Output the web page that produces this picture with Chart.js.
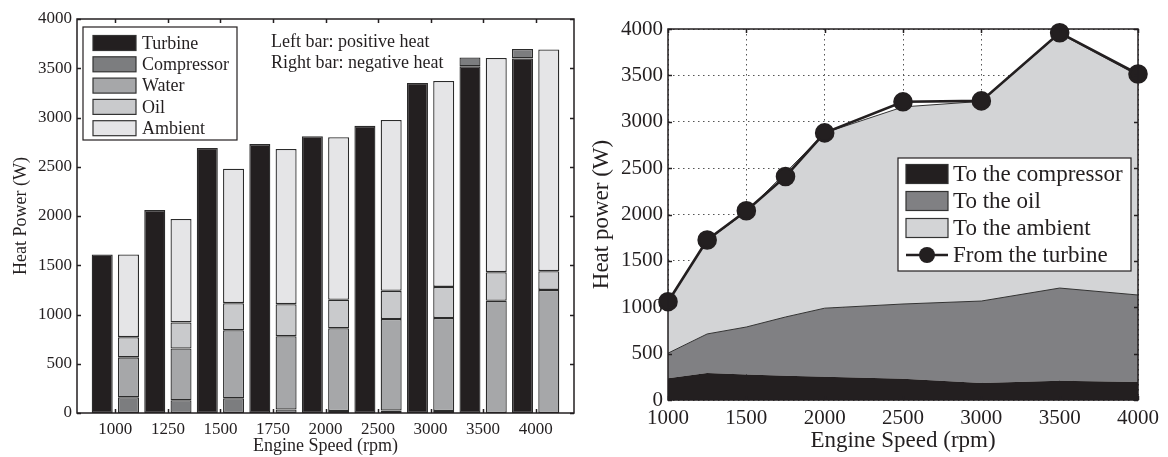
<!DOCTYPE html>
<html>
<head>
<meta charset="utf-8">
<script src="https://cdn.jsdelivr.net/npm/chart.js@4/dist/chart.umd.min.js"></script>
<style>
    html, body { margin: 0; padding: 0; background: #fff; }
    #page { position: relative; width: 1168px; height: 457px; }
    .panel { position: absolute; top: 0; width: 584px; height: 457px; }
</style>
</head>
<body>
<div id="page">
    <div class="panel" style="left:0"><canvas id="bar-chart"></canvas></div>
    <div class="panel" style="left:584px"><canvas id="area-chart"></canvas></div>
</div>
<script>
// engine speeds (rpm), shared by both panels
const speeds = [1000, 1250, 1500, 1750, 2000, 2500, 3000, 3500, 4000];
const yTicks = [0, 500, 1000, 1500, 2000, 2500, 3000, 3500, 4000];

// left panel: left bar = positive heat, right bar = negative heat (W)
const turbine = [1610, 2060, 2690, 2730, 2810, 2915, 3350, 3520, 3600];
const compressorPos = [0, 0, 0, 0, 0, 0, 0, 90, 95];
const compressorNeg = [160, 130, 150, 35, 20, 25, 20, 0, 0];
const water = [405, 525, 690, 745, 840, 930, 945, 1140, 1250];
const oil = [205, 265, 275, 325, 290, 285, 315, 290, 190];
const ambient = [840, 1050, 1365, 1575, 1650, 1735, 2090, 2175, 2250];

// right panel: stacked areas + turbine line (W)
const toCompressor = [235, 290, 275, 262, 250, 230, 182, 208, 195];
const toOil = [270, 422, 512, 633, 740, 805, 885, 999, 937];
const toAmbient = [555, 1008, 1243, 1555, 1890, 2125, 2153, 2743, 2368];
const fromTurbine = [1060, 1725, 2040, 2410, 2880, 3215, 3225, 3960, 3515];

const SERIF = "'Liberation Serif', 'DejaVu Serif', serif";
const INK = '#231f20';

const barColors = {
    turbine: '#231f20',
    compressor: '#7c7d7f',
    water: '#a6a7a9',
    oil: '#c9cacc',
    ambient: '#e5e5e7'
};

// box around the plot area + small inward tick marks on all four sides
const framePlugin = {
    id: 'frame',
    afterDatasetsDraw(chart, args, opts) {
        const { ctx, chartArea: a, scales } = chart;
        const len = opts.tickLength || 4;
        ctx.save();
        ctx.strokeStyle = opts.color || INK;
        ctx.lineWidth = opts.lineWidth || 1.2;
        ctx.beginPath();
        scales.x.ticks.forEach(t => {
            const px = Math.round(scales.x.getPixelForValue(t.value)) + 0.5;
            ctx.moveTo(px, a.bottom); ctx.lineTo(px, a.bottom - len);
            ctx.moveTo(px, a.top); ctx.lineTo(px, a.top + len);
        });
        scales.y.ticks.forEach(t => {
            const py = Math.round(scales.y.getPixelForValue(t.value)) + 0.5;
            ctx.moveTo(a.left, py); ctx.lineTo(a.left + len, py);
            ctx.moveTo(a.right, py); ctx.lineTo(a.right - len, py);
        });
        ctx.stroke();
        ctx.strokeRect(a.left, a.top, a.right - a.left, a.bottom - a.top);
        ctx.restore();
    }
};

// legend box drawn inside the plot area, plus optional free text
const boxLegendPlugin = {
    id: 'boxLegend',
    afterDraw(chart, args, opts) {
        const { ctx } = chart;
        const b = opts.box;
        ctx.save();
        ctx.fillStyle = '#fff';
        ctx.fillRect(b.x, b.y, b.w, b.h);
        ctx.strokeStyle = INK;
        ctx.lineWidth = 1.2;
        ctx.strokeRect(b.x, b.y, b.w, b.h);
        ctx.font = opts.font;
        ctx.textBaseline = 'middle';
        opts.items.forEach((item, i) => {
            const cy = b.y + opts.firstRow + i * opts.rowGap;
            const sx = b.x + opts.swatchX;
            if (item.marker) {
                ctx.strokeStyle = INK;
                ctx.lineWidth = 2.5;
                ctx.beginPath();
                ctx.moveTo(sx, cy); ctx.lineTo(sx + opts.swatchW, cy);
                ctx.stroke();
                ctx.fillStyle = INK;
                ctx.beginPath();
                ctx.arc(sx + opts.swatchW / 2, cy, 8, 0, Math.PI * 2);
                ctx.fill();
            } else {
                ctx.fillStyle = item.color;
                ctx.fillRect(sx, cy - opts.swatchH / 2, opts.swatchW, opts.swatchH);
                ctx.strokeStyle = '#333';
                ctx.lineWidth = 1.2;
                ctx.strokeRect(sx, cy - opts.swatchH / 2, opts.swatchW, opts.swatchH);
            }
            ctx.fillStyle = INK;
            ctx.fillText(item.label, b.x + opts.textX, cy + 1);
        });
        (opts.notes || []).forEach(n => {
            ctx.fillText(n.text, n.x, n.y);
        });
        ctx.restore();
    }
};

function asPoints(values) {
    return values.map((v, i) => ({ x: i + 1, y: v }));
}

function barSet(label, values, color, stack) {
    return {
        label,
        data: asPoints(values),
        backgroundColor: color,
        borderColor: '#2b2b2b',
        borderWidth: 1.3,
        borderSkipped: false,
        stack,
        categoryPercentage: 1.0,
        barPercentage: 0.8
    };
}

new Chart(document.getElementById('bar-chart'), {
    type: 'bar',
    data: {
        datasets: [
            barSet('Turbine', turbine, barColors.turbine, 'pos'),
            barSet('Compressor', compressorPos, barColors.compressor, 'pos'),
            barSet('Compressor', compressorNeg, barColors.compressor, 'neg'),
            barSet('Water', water, barColors.water, 'neg'),
            barSet('Oil', oil, barColors.oil, 'neg'),
            barSet('Ambient', ambient, barColors.ambient, 'neg')
        ]
    },
    options: {
        responsive: true,
        maintainAspectRatio: false,
        animation: false,
        layout: { padding: { top: 19, right: 10, left: 0, bottom: 0 } },
        scales: {
            x: {
                type: 'linear',
                min: 0.27,
                max: 9.73,
                offset: false,
                afterBuildTicks: scale => {
                    scale.ticks = speeds.map((s, i) => ({ value: i + 1 }));
                },
                afterFit: scale => { scale.height = 44; },
                grid: { display: false, offset: false, drawTicks: false },
                border: { display: false },
                ticks: {
                    padding: 6,
                    color: INK,
                    font: { family: SERIF, size: 17 },
                    callback: v => String(speeds[Math.round(v) - 1])
                },
                title: {
                    display: true,
                    text: 'Engine Speed (rpm)',
                    color: INK,
                    font: { family: SERIF, size: 18 },
                    padding: { top: 0, bottom: 0 }
                }
            },
            y: {
                stacked: true,
                min: 0,
                max: 4000,
                afterBuildTicks: scale => {
                    scale.ticks = yTicks.map(v => ({ value: v }));
                },
                afterFit: scale => { scale.width = 77; },
                grid: { display: false, drawTicks: false },
                border: { display: false },
                ticks: {
                    padding: 5,
                    color: INK,
                    font: { family: SERIF, size: 17 },
                    callback: v => String(v)
                },
                title: {
                    display: true,
                    text: 'Heat Power (W)',
                    color: INK,
                    font: { family: SERIF, size: 18 },
                    padding: { top: 10, bottom: 0 }
                }
            }
        },
        plugins: {
            legend: { display: false },
            tooltip: { enabled: false },
            frame: { tickLength: 4, lineWidth: 1.5 },
            boxLegend: {
                box: { x: 83, y: 27, w: 154, h: 113 },
                font: '18px ' + SERIF,
                firstRow: 16,
                rowGap: 21.3,
                swatchX: 10,
                swatchW: 43,
                swatchH: 15,
                textX: 59,
                items: [
                    { label: 'Turbine', color: barColors.turbine },
                    { label: 'Compressor', color: barColors.compressor },
                    { label: 'Water', color: barColors.water },
                    { label: 'Oil', color: barColors.oil },
                    { label: 'Ambient', color: barColors.ambient }
                ],
                notes: [
                    { text: 'Left bar: positive heat', x: 271, y: 42 },
                    { text: 'Right bar: negative heat', x: 271, y: 63 }
                ]
            }
        }
    },
    plugins: [framePlugin, boxLegendPlugin]
});

const areaColors = {
    compressor: '#231f20',
    oil: '#808083',
    ambient: '#d3d4d6'
};

function areaSet(label, values, color, fill, border) {
    return {
        label,
        data: values.map((v, i) => ({ x: speeds[i], y: v })),
        backgroundColor: color,
        borderColor: border,
        borderWidth: border ? 1 : 0,
        pointRadius: 0,
        fill,
        stack: 'heat',
        tension: 0
    };
}

new Chart(document.getElementById('area-chart'), {
    type: 'line',
    data: {
        datasets: [
            {
                label: 'From the turbine',
                data: fromTurbine.map((v, i) => ({ x: speeds[i], y: v })),
                borderColor: INK,
                borderWidth: 2.6,
                pointRadius: 8.5,
                pointBackgroundColor: INK,
                pointBorderColor: INK,
                fill: false,
                stack: 'turbine',
                clip: false,
                tension: 0
            },
            areaSet('To the compressor', toCompressor, areaColors.compressor, 'origin', null),
            areaSet('To the oil', toOil, areaColors.oil, '-1', '#333'),
            areaSet('To the ambient', toAmbient, areaColors.ambient, '-1', '#333')
        ]
    },
    options: {
        responsive: true,
        maintainAspectRatio: false,
        animation: false,
        layout: { padding: { top: 29, right: 30, left: 0, bottom: 0 } },
        scales: {
            x: {
                type: 'linear',
                min: 1000,
                max: 4000,
                afterBuildTicks: scale => {
                    scale.ticks = [1000, 1500, 2000, 2500, 3000, 3500, 4000].map(v => ({ value: v }));
                },
                afterFit: scale => { scale.height = 57; },
                grid: { color: '#555', drawTicks: false, lineWidth: 1 },
                border: { display: false, dash: [1.5, 3.5] },
                ticks: {
                    padding: 6,
                    color: INK,
                    font: { family: SERIF, size: 21 },
                    callback: v => String(v)
                },
                title: {
                    display: true,
                    text: 'Engine Speed (rpm)',
                    color: INK,
                    font: { family: SERIF, size: 23 },
                    padding: { top: 0, bottom: 2 }
                }
            },
            y: {
                stacked: true,
                min: 0,
                max: 4000,
                afterBuildTicks: scale => {
                    scale.ticks = yTicks.map(v => ({ value: v }));
                },
                afterFit: scale => { scale.width = 84; },
                grid: { color: '#555', drawTicks: false, lineWidth: 1 },
                border: { display: false, dash: [1.5, 3.5] },
                ticks: {
                    padding: 5,
                    color: INK,
                    font: { family: SERIF, size: 21 },
                    callback: v => String(v)
                },
                title: {
                    display: true,
                    text: 'Heat power (W)',
                    color: INK,
                    font: { family: SERIF, size: 23 },
                    padding: { top: 4, bottom: 0 }
                }
            }
        },
        plugins: {
            legend: { display: false },
            tooltip: { enabled: false },
            frame: { tickLength: 4, lineWidth: 1.5 },
            boxLegend: {
                box: { x: 314, y: 158, w: 233, h: 113 },
                font: '23px ' + SERIF,
                firstRow: 16,
                rowGap: 27,
                swatchX: 8,
                swatchW: 42,
                swatchH: 19,
                textX: 55,
                items: [
                    { label: 'To the compressor', color: areaColors.compressor },
                    { label: 'To the oil', color: areaColors.oil },
                    { label: 'To the ambient', color: areaColors.ambient },
                    { label: 'From the turbine', marker: true }
                ]
            }
        }
    },
    plugins: [framePlugin, boxLegendPlugin]
});
</script>
</body>
</html>
